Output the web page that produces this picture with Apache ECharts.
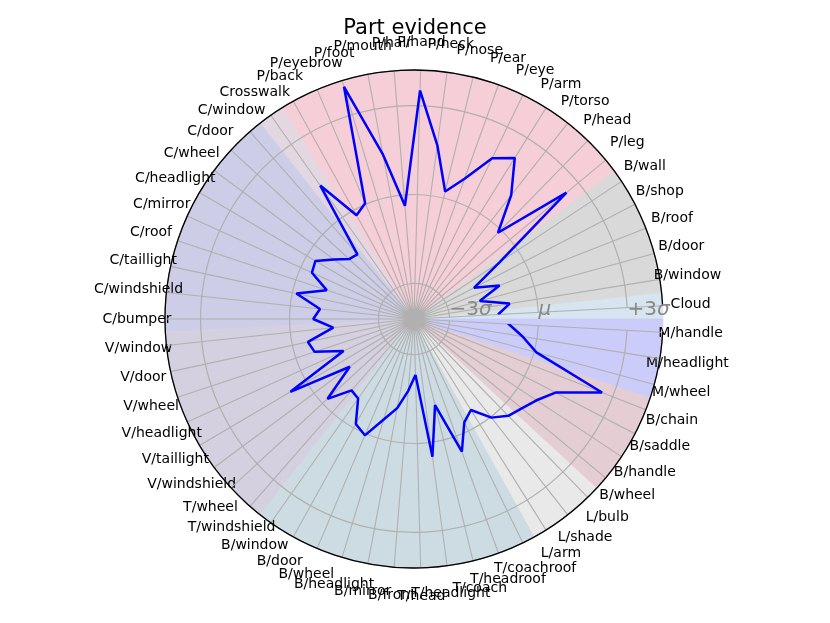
<!DOCTYPE html>
<html><head><meta charset="utf-8">
<script src="https://cdn.jsdelivr.net/npm/echarts@6/dist/echarts.min.js"></script>
<style>html,body{margin:0;padding:0;background:#fff}#c{width:830px;height:623px}</style>
</head><body><div id="c"></div>
<script>
// ---- data ----
const categories = ['Cloud','B/window','B/door','B/roof','B/shop','B/wall',
  'P/leg','P/head','P/torso','P/arm','P/eye','P/ear','P/nose','P/neck','P/hand','P/hair','P/mouth','P/foot','P/eyebrow','P/back',
  'Crosswalk',
  'C/window','C/door','C/wheel','C/headlight','C/mirror','C/roof','C/taillight','C/windshield','C/bumper',
  'V/window','V/door','V/wheel','V/headlight','V/taillight','V/windshield',
  'T/wheel','T/windshield',
  'B/window','B/door','B/wheel','B/headlight','B/mirror','B/front',
  'T/head','T/headlight','T/coach','T/headroof','T/coachroof',
  'L/arm','L/shade','L/bulb',
  'B/wheel','B/handle','B/saddle','B/chain',
  'M/wheel','M/headlight','M/handle'];
const evidence = [-1.36,-0.93,-1.9,-1.1,-1.92,-0.74,
  2.48,-0.14,1.11,2.21,1.83,0.83,0.23,1.72,3.51,-0.37,1.44,3.98,0.04,-0.2,
  1.30,
  -1.30,-1.22,-0.83,-0.34,-0.42,-1.1,-0.14,-1.01,-0.80,
  -1.46,-0.54,-0.67,-1.59,0.64,-1.50,
  -0.23,-1.0,
  -0.92,-0.15,0.06,-0.66,-1.14,-1.77,
  -2.31,0.49,-1.21,0.56,-0.32,
  -0.58,0.03,0.36,
  0.52,0.76,1.18,2.61,
  0.08,-0.49,-1.0];
const groupNames = ['Cloud','Building','Person','Crosswalk','Car','Van','Truck','Bus','Train','Lamp','Bicycle','Motorbike'];
const groupSizes = [1,5,14,1,9,6,2,6,5,3,4,3];
const radialTicks = [-3, 0, 3];
const radialTickLabels = ['−3', '', '+3'];
const radialTickSymbols = ['σ', 'μ', 'σ'];
const rMin = -4.2, rMax = 4.2;

// ---- styles / layout ----
const groupColors = {
  Cloud:'#d6e5ef', Building:'#d9d9d9', Person:'#f6ced7', Crosswalk:'#e3d7e1', Car:'#cdcde7',
  Van:'#d4d0df', Truck:'#d4d0df', Bus:'#cddce2', Train:'#cddce2', Lamp:'#e9e9e9',
  Bicycle:'#e4cdd3', Motorbike:'#ccccfa'
};
const groupOfIndex = [];
groupNames.forEach((g, k) => { for (let j = 0; j < groupSizes[k]; j++) groupOfIndex.push(g); });

const FONT = 'DejaVu Sans';
const LABEL_SIZE = 14;
const LABEL_LH = 16;
const CX = 414, CY = 319, R_OUT = 249;
const R_LABEL = 277;   // radius where label centres sit
const R_ANCHOR = 170;  // label anchor radius (margin = R_ANCHOR - R_OUT)
const step = 360 / categories.length;
const startAngle = step / 2;

const measureCtx = document.createElement('canvas').getContext('2d');
measureCtx.font = LABEL_SIZE + 'px "' + FONT + '"';

// padding that turns ECharts' edge-anchored angle labels into centred ones
function centredPadding(i, text) {
  const w = measureCtx.measureText(text).width;
  const th = LABEL_LH;
  const a = (startAngle + i * step) * Math.PI / 180;
  const ax = R_ANCHOR * Math.cos(a), ay = -R_ANCHOR * Math.sin(a);
  const cx = R_LABEL * Math.cos(a), cy = -R_LABEL * Math.sin(a);
  const hA = Math.abs(ax) / R_OUT < 0.3 ? 'center' : (ax > 0 ? 'left' : 'right');
  const vA = Math.abs(ay) / R_OUT < 0.3 ? 'middle' : (ay > 0 ? 'top' : 'bottom');
  let pt = 0, pr = 0, pb = 0, pl = 0;
  if (hA === 'left') pl = cx - ax - w / 2;
  else if (hA === 'right') pr = ax - cx - w / 2;
  else { const d = cx - ax; if (d > 0) pl = 2 * d; else pr = -2 * d; }
  if (vA === 'top') pt = cy - ay - th / 2;
  else if (vA === 'bottom') pb = ay - cy - th / 2;
  else { const d = cy - ay; if (d > 0) pt = 2 * d; else pb = -2 * d; }
  return [pt, pr, pb, pl].map(v => Math.max(0, v));
}
const angleData = categories.map((c, i) => ({ value: c, textStyle: { padding: centredPadding(i, c) } }));

const chart = echarts.init(document.getElementById('c'), null, {renderer: 'canvas'});

const wedge = (v, i) => {
  const col = groupColors[groupOfIndex[i]];
  return { value: v, itemStyle: { color: col, borderColor: col, borderWidth: 0.8 } };
};
const wedgePos = categories.map((c, i) => wedge(rMax, i));
const wedgeNeg = categories.map((c, i) => wedge(rMin, i));
const lineData = evidence.map((v, i) => [v, i]);
lineData.push([evidence[0], 0]);

chart.setOption({
  animation: false,
  backgroundColor: '#fff',
  title: { text: 'Part evidence', left: 'center', top: 13,
    textStyle: { fontFamily: FONT, fontSize: 21, fontWeight: 'normal', color: '#000' } },
  polar: [
    { center: [CX, CY], radius: R_OUT },
    { center: [CX, CY], radius: R_OUT }
  ],
  angleAxis: [
    { polarIndex: 0, type: 'category', data: angleData, startAngle: startAngle, clockwise: false,
      boundaryGap: false, z: 2,
      axisLine: { show: true, lineStyle: { color: '#000', width: 1.3 } },
      axisTick: { show: false },
      axisLabel: { interval: 0, margin: R_ANCHOR - R_OUT,
        formatter: function (v) { return '{t|' + v + '}'; },
        rich: { t: { fontFamily: FONT, fontSize: LABEL_SIZE, lineHeight: LABEL_LH, color: '#000' } } },
      splitLine: { show: true, interval: 0, lineStyle: { color: '#b0b0b0', width: 1.1 } } },
    { polarIndex: 1, type: 'value', min: 0, max: 360, startAngle: 0, show: false }
  ],
  radiusAxis: [
    { polarIndex: 0, type: 'value', min: rMin, max: rMax, splitNumber: 3, z: 1,
      axisLine: { show: false }, axisTick: { show: false }, axisLabel: { show: false },
      splitLine: { show: true, lineStyle: { color: '#b0b0b0', width: 1.2 } } },
    { polarIndex: 1, type: 'value', min: rMin, max: rMax, splitNumber: 3, z: 6,
      axisLine: { show: false }, axisTick: { show: false }, splitLine: { show: false },
      axisLabel: { show: true, margin: 9, align: 'left', verticalAlign: 'middle',
        formatter: function (v) {
          const k = radialTicks.indexOf(Math.round(v * 1000) / 1000);
          if (k < 0) return '';
          return (radialTickLabels[k] ? '{n|' + radialTickLabels[k] + '}' : '') + '{s|' + radialTickSymbols[k] + '}';
        },
        rich: {
          n: { fontFamily: FONT, fontSize: 20, color: '#888' },
          s: { fontFamily: FONT, fontSize: 20, fontStyle: 'italic', color: '#888' }
        } } }
  ],
  series: [
    { type: 'bar', coordinateSystem: 'polar', polarIndex: 0, stack: 'bg', data: wedgePos,
      barCategoryGap: '0%', barGap: '0%', z: 0, silent: true },
    { type: 'bar', coordinateSystem: 'polar', polarIndex: 0, stack: 'bg', data: wedgeNeg,
      barCategoryGap: '0%', barGap: '0%', z: 0, silent: true },
    { type: 'line', coordinateSystem: 'polar', polarIndex: 0, data: lineData, symbol: 'none', z: 5,
      lineStyle: { color: '#0000ff', width: 2.5 } }
  ]
});
</script></body></html>
